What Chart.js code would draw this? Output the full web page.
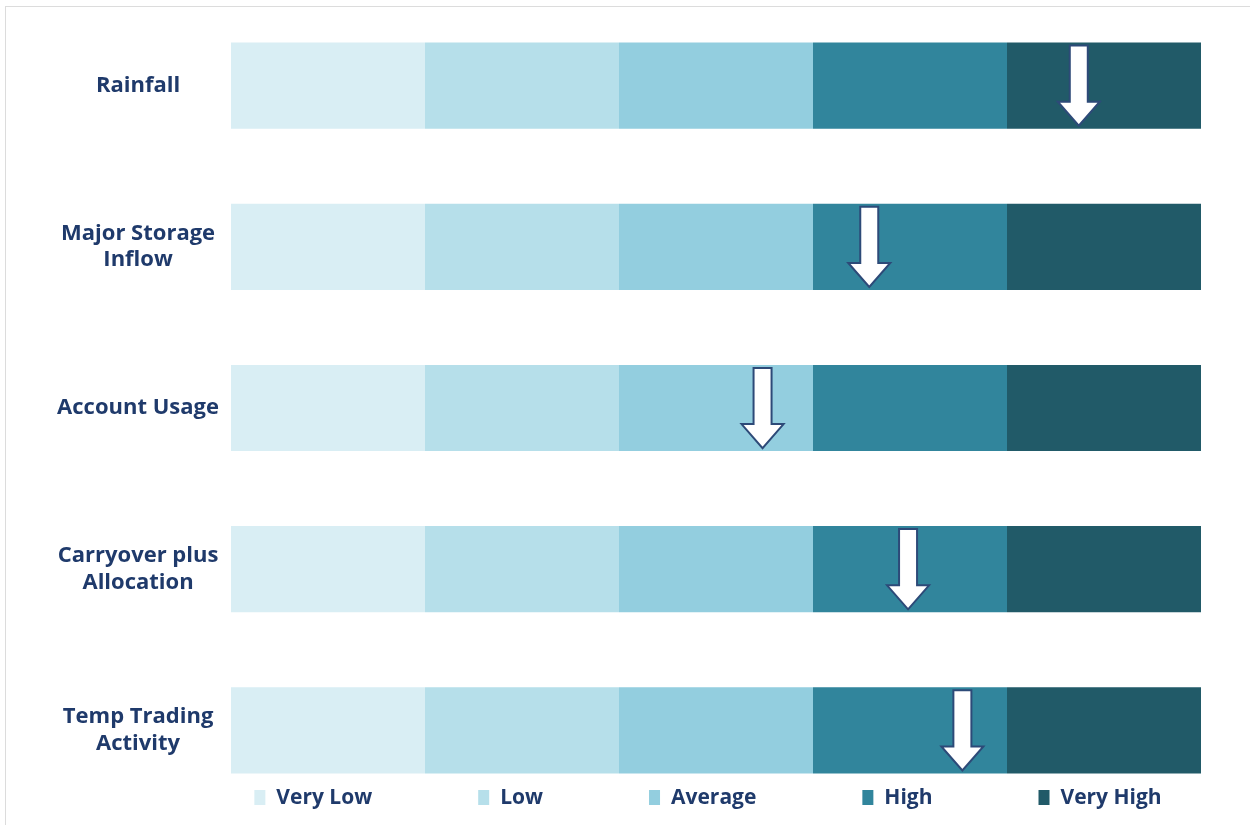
<!DOCTYPE html>
<html>
<head>
<meta charset="utf-8">
<title>Water Indicators</title>
<style>
  html, body { margin: 0; padding: 0; background: #fff; }
  #wrap { position: relative; width: 1250px; height: 825px; }
  #frame { position: absolute; left: 5px; top: 6px; right: 0; bottom: 0;
           border-left: 1px solid #dcdcdc; border-top: 1px solid #dcdcdc; }
  canvas { position: absolute; left: 0; top: 0; }
</style>
</head>
<body>
<div id="wrap">
  <div id="frame"></div>
  <canvas id="myChart" width="1250" height="825"></canvas>
</div>
<script src="https://cdn.jsdelivr.net/npm/chart.js"></script>
<script>
// categories (rows)
const categories = [
  'Rainfall',
  ['Major Storage', 'Inflow'],
  'Account Usage',
  ['Carryover plus', 'Allocation'],
  ['Temp Trading', 'Activity']
];
// rating bands, each one unit wide
const bands = ['Very Low', 'Low', 'Average', 'High', 'Very High'];
const bandColors = ['#d9eef4', '#b6dfea', '#93cedf', '#31859c', '#215a68'];
// where the arrow points on the 0..5 band scale
const arrowValues = [4.37, 3.29, 2.74, 3.49, 3.77];

const textColor = '#1f3a6b';
const fontFamily = "'Open Sans', 'DejaVu Sans', sans-serif";

const datasets = bands.map((b, i) => ({
  label: b,
  data: categories.map(() => 1),
  backgroundColor: bandColors[i],
  borderWidth: 0,
  barPercentage: 1,
  categoryPercentage: 0.535
}));

// draw the white arrows over the bars
const arrowPlugin = {
  id: 'arrows',
  afterDatasetsDraw(chart) {
    const ctx = chart.ctx;
    const xs = chart.scales.x;
    const meta = chart.getDatasetMeta(0);
    ctx.save();
    arrowValues.forEach((v, i) => {
      const el = meta.data[i];
      const x = xs.getPixelForValue(v);
      const top = el.y - el.height / 2 + 3;
      const bot = el.y + el.height / 2 - 3;
      const sw = 9, hw = 21, hh = 24;
      ctx.beginPath();
      ctx.moveTo(x - sw, top);
      ctx.lineTo(x + sw, top);
      ctx.lineTo(x + sw, bot - hh);
      ctx.lineTo(x + hw, bot - hh);
      ctx.lineTo(x, bot);
      ctx.lineTo(x - hw, bot - hh);
      ctx.lineTo(x - sw, bot - hh);
      ctx.closePath();
      ctx.fillStyle = '#ffffff';
      ctx.fill();
      ctx.lineWidth = 2;
      ctx.strokeStyle = '#2d4a78';
      ctx.stroke();
    });
    ctx.restore();
  }
};

// legend row along the bottom
const legendPlugin = {
  id: 'bandLegend',
  afterDraw(chart) {
    const ctx = chart.ctx;
    ctx.save();
    ctx.font = 'bold 21px ' + fontFamily;
    ctx.textBaseline = 'middle';
    ctx.textAlign = 'left';
    const y = 797, box = 11, gap = 11, spacing = 106;
    const widths = chart.data.datasets.map(ds => box + gap + ctx.measureText(ds.label).width);
    const total = widths.reduce((a, b) => a + b, 0) + spacing * (widths.length - 1);
    let x = 708 - total / 2;
    chart.data.datasets.forEach((ds, j) => {
      ctx.fillStyle = ds.backgroundColor;
      ctx.fillRect(x, y - 7, box, 15);
      ctx.fillStyle = textColor;
      ctx.fillText(ds.label, x + box + gap, y + 1);
      x += widths[j] + spacing;
    });
    ctx.restore();
  }
};

const ctx = document.getElementById('myChart').getContext('2d');
const myChart = new Chart(ctx, {
  type: 'bar',
  data: { labels: categories, datasets: datasets },
  options: {
    indexAxis: 'y',
    responsive: false,
    animation: false,
    layout: { padding: { top: 5, bottom: 14, left: 0, right: 49 } },
    plugins: {
      legend: { display: false },
      tooltip: { enabled: false }
    },
    scales: {
      x: {
        stacked: true,
        min: 0,
        max: 5,
        display: false
      },
      y: {
        stacked: true,
        grid: { display: false, drawTicks: false },
        border: { display: false },
        afterFit(scale) {
          scale.width = 231;
          scale.paddingTop = 0;
          scale.paddingBottom = 0;
        },
        ticks: {
          color: textColor,
          padding: 12,
          crossAlign: 'center',
          font: { family: fontFamily, weight: 'bold', size: 22 },
          lineHeight: 1.25
        }
      }
    }
  },
  plugins: [arrowPlugin, legendPlugin]
});
</script>
</body>
</html>
